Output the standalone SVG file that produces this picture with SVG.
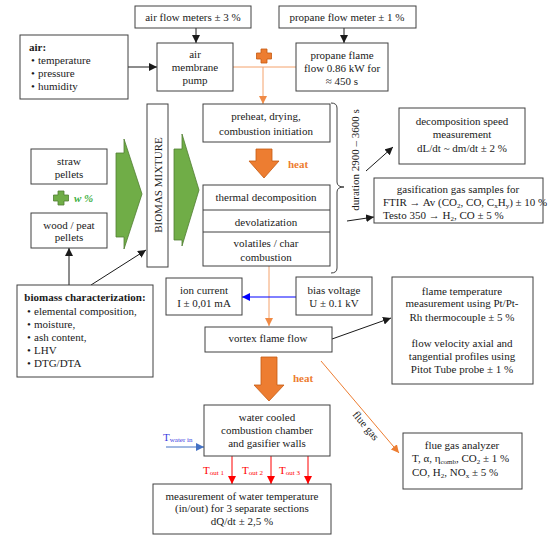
<svg xmlns="http://www.w3.org/2000/svg" width="550" height="543" viewBox="0 0 550 543">
<defs>
<style>
.box{fill:#fff;stroke:#404040;stroke-width:1}
text{font-family:"Liberation Serif","Times New Roman",serif;font-size:11px;fill:#1a1a1a}
.c{text-anchor:middle}
.b{font-weight:bold}
.heat{fill:#ED7D31;font-weight:bold}
.sub{font-size:7px}
.blk{stroke:#1a1a1a;stroke-width:1;fill:none}
.org{stroke:#F4A26C;stroke-width:1;fill:none}
.org2{stroke:#ED7D31;stroke-width:1;fill:none}
.blu{stroke:#0000FF;stroke-width:1;fill:none}
.blu2{stroke:#4472C4;stroke-width:1;fill:none}
.red{stroke:#FF0000;stroke-width:1;fill:none}
.bigorg{fill:#ED7D31;stroke:#C55A11;stroke-width:0.8}
.green{fill:#70AD47;stroke:#507E32;stroke-width:0.8}
</style>
<marker id="mb" viewBox="0 0 10 10" refX="10" refY="5" markerWidth="8" markerHeight="8" markerUnits="userSpaceOnUse" orient="auto"><path d="M0,0L10,5L0,10z" fill="#1a1a1a"/></marker>
<marker id="mo" viewBox="0 0 10 10" refX="10" refY="5" markerWidth="8" markerHeight="8" markerUnits="userSpaceOnUse" orient="auto"><path d="M0,0L10,5L0,10z" fill="#F08A45"/></marker>
<marker id="mo2" viewBox="0 0 10 10" refX="10" refY="5" markerWidth="8" markerHeight="8" markerUnits="userSpaceOnUse" orient="auto"><path d="M0,0L10,5L0,10z" fill="#ED7D31"/></marker>
<marker id="mbl" viewBox="0 0 10 10" refX="10" refY="5" markerWidth="8" markerHeight="8" markerUnits="userSpaceOnUse" orient="auto"><path d="M0,0L10,5L0,10z" fill="#0000FF"/></marker>
<marker id="mbl2" viewBox="0 0 10 10" refX="10" refY="5" markerWidth="8" markerHeight="8" markerUnits="userSpaceOnUse" orient="auto"><path d="M0,0L10,5L0,10z" fill="#4472C4"/></marker>
<marker id="mr" viewBox="0 0 10 10" refX="10" refY="5" markerWidth="8" markerHeight="8" markerUnits="userSpaceOnUse" orient="auto"><path d="M0,0L10,5L0,10z" fill="#FF0000"/></marker>
</defs>
<rect width="550" height="543" fill="#fff"/>

<g id="connectors">
<line class="blk" x1="128" y1="67" x2="157" y2="67" marker-end="url(#mb)"/>
<line class="blk" x1="196" y1="28" x2="196" y2="43" marker-end="url(#mb)"/>
<line class="blk" x1="344" y1="28" x2="344" y2="43" marker-end="url(#mb)"/>
<line class="org" x1="233" y1="67" x2="296" y2="67"/>
<line class="org" x1="263" y1="67" x2="263" y2="104" marker-end="url(#mo)"/>
<line class="blk" x1="69" y1="285" x2="69" y2="248" marker-end="url(#mb)"/>
<line class="blk" x1="91" y1="285" x2="146" y2="250" marker-end="url(#mb)"/>
<line class="org" x1="269" y1="266" x2="269" y2="326" marker-end="url(#mo)"/>
<line class="blu" x1="296" y1="297" x2="242" y2="297" marker-end="url(#mbl)"/>
<line class="blk" x1="366" y1="171" x2="393" y2="147" marker-end="url(#mb)"/>
<line class="blk" x1="347" y1="221" x2="374" y2="217" marker-end="url(#mb)"/>
<line class="blk" x1="332" y1="339" x2="391" y2="318" marker-end="url(#mb)"/>
<line class="org2" x1="321" y1="361" x2="399" y2="453" marker-end="url(#mo2)"/>
<line class="blu2" x1="166" y1="447" x2="204" y2="447" marker-end="url(#mbl2)"/>
<line class="red" x1="232" y1="456" x2="232" y2="484" marker-end="url(#mr)"/>
<line class="red" x1="271" y1="456" x2="271" y2="484" marker-end="url(#mr)"/>
<line class="red" x1="308" y1="456" x2="308" y2="484" marker-end="url(#mr)"/>
<path d="M331,103 Q337,103 337,108 L337,182 Q337,187 344,187 Q337,187 337,192 L337,268 Q337,273 331,273" fill="none" stroke="#404040" stroke-width="1"/>
</g>

<g id="air-flow-meters">
<rect class="box" x="135" y="6" width="116" height="22"/>
<text class="c" x="193" y="21">air flow meters ± 3 %</text>
</g>
<g id="propane-flow-meter">
<rect class="box" x="279" y="6" width="137" height="22"/>
<text class="c" x="347" y="21">propane flow meter ± 1 %</text>
</g>
<g id="air">
<rect class="box" x="20" y="35" width="108" height="64"/>
<text class="b" x="29" y="51">air:</text>
<text x="31" y="64">•</text><text x="38" y="64">temperature</text>
<text x="31" y="77">•</text><text x="38" y="77">pressure</text>
<text x="31" y="90">•</text><text x="38" y="90">humidity</text>
</g>
<g id="pump">
<rect class="box" x="157" y="43" width="76" height="48"/>
<text class="c" x="195" y="58">air</text>
<text class="c" x="195" y="71">membrane</text>
<text class="c" x="195" y="84">pump</text>
</g>
<g id="orange-plus">
<path class="bigorg" d="M261,49h6v4h4.5v6h-4.5v4h-6v-4h-4.5v-6h4.5z"/>
</g>
<g id="propane-flame">
<rect class="box" x="296" y="43" width="92" height="48"/>
<text class="c" x="342" y="59">propane flame</text>
<text class="c" x="342" y="72">flow 0.86 kW for</text>
<text class="c" x="342" y="85">≈ 450 s</text>
</g>
<g id="straw">
<rect class="box" x="31" y="149" width="76" height="35"/>
<text class="c" x="69" y="165">straw</text>
<text class="c" x="69" y="178">pellets</text>
</g>
<g id="green-plus">
<path class="green" d="M58,191h6v4h4.5v6h-4.5v4h-6v-4h-4.5v-6h4.5z"/>
<text x="74" y="202" fill="#3CB043" style="fill:#3CB043;font-weight:bold;font-style:italic">w %</text>
</g>
<g id="wood">
<rect class="box" x="31" y="213" width="76" height="35"/>
<text class="c" x="69" y="229">wood / peat</text>
<text class="c" x="69" y="241">pellets</text>
</g>
<g id="green-arrow-1">
<polygon class="green" points="116,153 124,153 124,139 142,194 124,249 124,237 116,237"/>
</g>
<g id="mixture">
<rect class="box" x="147" y="104" width="21" height="163"/>
<text class="c" transform="translate(161.5,185) rotate(-90)" x="0" y="0">BIOMAS  MIXTURE</text>
</g>
<g id="green-arrow-2">
<polygon class="green" points="174,149 182,149 182,134 199,190 182,246 182,240 174,240"/>
</g>
<g id="preheat">
<rect class="box" x="203" y="104" width="127" height="38"/>
<text class="c" x="266" y="120">preheat, drying,</text>
<text class="c" x="266" y="135">combustion initiation</text>
</g>
<g id="heat-1">
<polygon class="bigorg" points="256,149 272,149 272,161 279,161 264,178 249,161 256,161"/>
<text class="heat" x="288" y="168">heat</text>
</g>
<g id="stages">
<rect class="box" x="203" y="185" width="127" height="81"/>
<line x1="203" y1="210" x2="330" y2="210" stroke="#404040"/>
<line x1="203" y1="232" x2="330" y2="232" stroke="#404040"/>
<text class="c" x="266" y="201">thermal decomposition</text>
<text class="c" x="266" y="226">devolatization</text>
<text class="c" x="266" y="247">volatiles / char</text>
<text class="c" x="266" y="261">combustion</text>
</g>
<g id="duration">
<text class="c" transform="translate(359,160) rotate(-90)">duration 2900 – 3600 s</text>
</g>
<g id="decomposition-speed">
<rect class="box" x="399" y="108" width="126" height="56"/>
<text class="c" x="462" y="125">decomposition speed</text>
<text class="c" x="462" y="138">measurement</text>
<text class="c" x="462" y="152">dL/dt ~ dm/dt ± 2 %</text>
</g>
<g id="gasification">
<rect class="box" x="374" y="178" width="169" height="45"/>
<text class="c" x="458" y="193">gasification gas samples for</text>
<text x="383" y="206">FTIR → Av (CO<tspan class="sub" dy="2">2</tspan><tspan dy="-2">, CO, C</tspan><tspan class="sub" dy="2">x</tspan><tspan dy="-2">H</tspan><tspan class="sub" dy="2">y</tspan><tspan dy="-2">) ± 10 %</tspan></text>
<text x="383" y="219">Testo 350 → H<tspan class="sub" dy="2">2</tspan><tspan dy="-2">, CO ± 5 %</tspan></text>
</g>
<g id="biomass-characterization">
<rect class="box" x="17" y="285" width="136" height="92"/>
<text class="b c" x="85" y="301">biomass characterization:</text>
<text x="27" y="315">•</text><text x="34" y="315">elemental composition,</text>
<text x="27" y="328">•</text><text x="34" y="328">moisture,</text>
<text x="27" y="341">•</text><text x="34" y="341">ash content,</text>
<text x="27" y="354">•</text><text x="34" y="354">LHV</text>
<text x="27" y="367">•</text><text x="34" y="367">DTG/DTA</text>
</g>
<g id="ion-current">
<rect class="box" x="166" y="278" width="76" height="37"/>
<text class="c" x="204" y="294">ion current</text>
<text class="c" x="204" y="307">I  ± 0,01 mA</text>
</g>
<g id="bias-voltage">
<rect class="box" x="296" y="277" width="76" height="38"/>
<text class="c" x="334" y="294">bias voltage</text>
<text class="c" x="334" y="307">U ± 0.1 kV</text>
</g>
<g id="vortex">
<rect class="box" x="205" y="327" width="127" height="25"/>
<text class="c" x="268" y="342">vortex flame flow</text>
</g>
<g id="flame-temperature">
<rect class="box" x="392" y="277" width="141" height="107"/>
<text class="c" x="462" y="295">flame temperature</text>
<text class="c" x="462" y="307">measurement using Pt/Pt-</text>
<text class="c" x="462" y="321">Rh thermocouple  ± 5 %</text>
<text class="c" x="462" y="347">flow velocity axial and</text>
<text class="c" x="462" y="360">tangential profiles using</text>
<text class="c" x="462" y="373">Pitot Tube probe ± 1 %</text>
</g>
<g id="heat-2">
<polygon class="bigorg" points="261,357 277,357 277,385 284,385 269,401 254,385 261,385"/>
<text class="heat" x="293" y="382">heat</text>
</g>
<g id="flue-gas-label">
<text class="c" transform="translate(363,428) rotate(50)">flue gas</text>
</g>
<g id="water-cooled">
<rect class="box" x="204" y="405" width="126" height="51"/>
<text class="c" x="267" y="421">water cooled</text>
<text class="c" x="267" y="434">combustion chamber</text>
<text class="c" x="267" y="447">and gasifier walls</text>
</g>
<g id="t-labels">
<text x="163" y="441" style="fill:#3A3AE0">T<tspan class="sub" dy="1">water in</tspan></text>
<text x="203" y="474" style="fill:#FF0000">T<tspan class="sub" dy="1">out 1</tspan></text>
<text x="242" y="474" style="fill:#FF0000">T<tspan class="sub" dy="1">out 2</tspan></text>
<text x="279" y="474" style="fill:#FF0000">T<tspan class="sub" dy="1">out 3</tspan></text>
</g>
<g id="measurement">
<rect class="box" x="153" y="484" width="178" height="50"/>
<text class="c" x="242" y="500">measurement of water temperature</text>
<text class="c" x="242" y="512">(in/out) for 3 separate sections</text>
<text class="c" x="242" y="525">dQ/dt ± 2,5 %</text>
</g>
<g id="flue-gas-analyzer">
<rect class="box" x="403" y="433" width="119" height="56"/>
<text class="c" x="462" y="449">flue gas analyzer</text>
<text x="412" y="462">T, α, η<tspan class="sub" dy="2">comb</tspan><tspan dy="-2">, CO</tspan><tspan class="sub" dy="2">2</tspan><tspan dy="-2"> ± 1 %</tspan></text>
<text x="412" y="476">CO, H<tspan class="sub" dy="2">2</tspan><tspan dy="-2">, NO</tspan><tspan class="sub" dy="2">x</tspan><tspan dy="-2"> ± 5 %</tspan></text>
</g>
</svg>
